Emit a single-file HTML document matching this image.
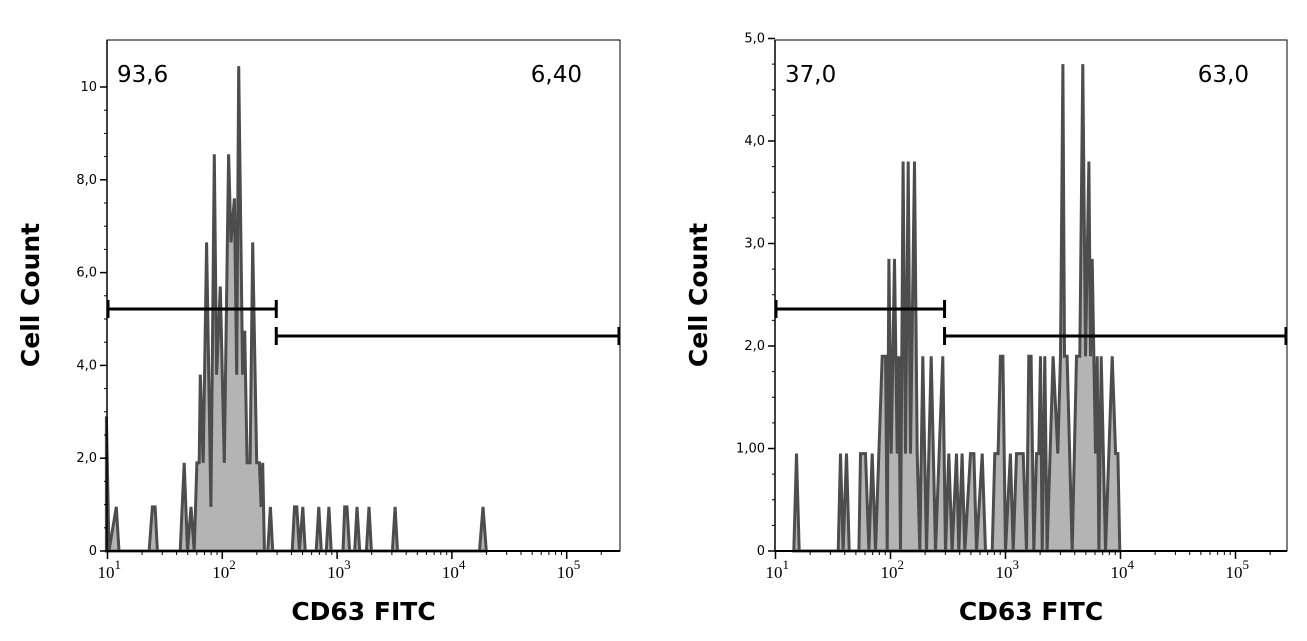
<!DOCTYPE html>
<html><head><meta charset="utf-8">
<style>
body{margin:0;background:#fff;}
svg{display:block;}
.tl{font-family:"DejaVu Sans","Liberation Sans",sans-serif;font-size:13px;fill:#000;}
.xl{font-family:"Liberation Serif",serif;font-size:17px;fill:#000;}
.ttl{font-family:"DejaVu Sans","Liberation Sans",sans-serif;font-weight:bold;font-size:25px;fill:#000;}
.pct{font-family:"DejaVu Sans","Liberation Sans",sans-serif;font-size:23px;fill:#000;}
</style></head>
<body>
<svg id="chart" width="1307" height="641" viewBox="0 0 1307 641"></svg>
<script>
// Left panel data: log10(x) bin positions and counts
const leftLogX = [0.99,1.013,1.077,1.10,1.362,1.391,1.415,1.435,1.633,1.668,1.697,1.727,1.755,1.779,1.799,1.808,1.834,1.863,1.901,1.930,1.950,1.983,2.017,2.055,2.076,2.105,2.125,2.143,2.177,2.195,2.216,2.242,2.265,2.300,2.323,2.338,2.352,2.367,2.396,2.419,2.439,2.609,2.629,2.649,2.672,2.701,2.722,2.818,2.841,2.862,2.906,2.929,2.949,3.051,3.066,3.086,3.109,3.153,3.173,3.197,3.255,3.278,3.299,3.482,3.505,3.526,4.24,4.271,4.30];
const leftCounts = [2.9,0,0.95,0,0,0.95,0.95,0,0,1.9,0,0.95,0,1.9,1.9,3.8,1.9,6.65,0.95,8.55,3.8,5.7,1.9,8.55,6.65,7.6,3.8,10.45,3.8,4.75,1.9,1.9,6.65,1.9,1.9,0.95,1.9,0,0,0.95,0,0,0.95,0.95,0,0.95,0,0,0.95,0,0,0.95,0,0,0.95,0.95,0,0,0.95,0,0,0.95,0,0,0.95,0,0,0.95,0];
// Right panel data
const rightLogX = [1.159,1.183,1.206,1.545,1.565,1.588,1.617,1.641,1.725,1.739,1.783,1.812,1.841,1.870,1.928,1.957,1.971,1.986,2.006,2.035,2.058,2.072,2.087,2.110,2.130,2.154,2.174,2.209,2.232,2.255,2.281,2.313,2.354,2.391,2.455,2.478,2.507,2.536,2.574,2.594,2.623,2.646,2.696,2.725,2.748,2.797,2.826,2.884,2.907,2.936,2.956,2.977,3.000,3.043,3.067,3.096,3.154,3.183,3.203,3.223,3.246,3.270,3.290,3.304,3.319,3.342,3.362,3.414,3.455,3.478,3.499,3.513,3.536,3.580,3.617,3.646,3.672,3.696,3.725,3.739,3.754,3.783,3.797,3.812,3.832,3.870,3.928,3.957,3.977,3.994];
const rightCounts = [0,0.95,0,0,0.95,0,0.95,0,0,0.95,0.95,0,0.95,0,1.9,1.9,0,2.85,0.95,2.85,0.95,1.9,0,3.8,0.95,3.8,0.95,3.8,0.95,0,1.9,0,1.9,0,1.9,0,0.95,0,0.95,0,0.95,0,0.95,0.95,0,0.95,0,0,0.95,0.95,1.9,1.9,0,0.95,0,0.95,0.95,0,1.9,1.9,0,0.95,0.95,1.9,0,1.9,0,1.9,0.95,1.9,4.75,1.9,1.9,0,1.9,1.9,4.75,1.9,3.8,1.9,2.85,0.95,1.9,0,1.9,0,1.9,0.95,0.95,0];
const leftYTicks = [0,2,4,6,8,10];
const leftYLabels = ["0","2,0","4,0","6,0","8,0","10"];
const rightYTicks = [0,1,2,3,4,5];
const rightYLabels = ["0","1,00","2,0","3,0","4,0","5,0"];
const xDecades = [1,2,3,4,5];
const leftPct = ["93,6","6,40"];
const rightPct = ["37,0","63,0"];
const leftGate = [0.99, 2.47, 5.05];  // log gate start, split, right end; y value
const rightGate = [1.0, 2.47, 2.3];

const NS="http://www.w3.org/2000/svg";
const svg=document.getElementById('chart');
function mk(tag,attrs,parent){const e=document.createElementNS(NS,tag);for(const k in attrs)e.setAttribute(k,attrs[k]);(parent||svg).appendChild(e);return e;}

function panel(opt){
  const g=mk('g',{});
  
  
  const L=opt.left,R=opt.right,T=40,B=551;
  const xs=v=>L+0.5+(v-1)*opt.dec;
  const ys=v=>B-v*opt.yscale;
  // frame
  const fr=mk('rect',{x:L,y:T,width:R-L,height:B-T,fill:'none',stroke:'#000','stroke-width':1},g);
  
  
  // histogram
  let d='M'+xs(opt.lx[0]).toFixed(1)+','+ys(0);
  for(let i=0;i<opt.lx.length;i++)d+=' L'+xs(opt.lx[i]).toFixed(1)+','+ys(opt.ly[i]).toFixed(1);
  d+=' L'+xs(opt.lx[opt.lx.length-1]).toFixed(1)+','+ys(0)+' Z';
  const h=mk('path',{d:d,fill:'#b4b4b4',stroke:'#4d4d4d','stroke-width':3,'stroke-linejoin':'miter'},g);
  
  
  // axes
  mk('line',{x1:L,y1:B,x2:R,y2:B,stroke:'#000','stroke-width':2},g);
  mk('line',{x1:L,y1:T,x2:L,y2:B,stroke:'#000','stroke-width':1.5},g);
  // y ticks
  opt.yt.forEach((v,i)=>{
    mk('line',{x1:L-7,y1:ys(v),x2:L,y2:ys(v),stroke:'#000','stroke-width':1.5},g);
    const t=mk('text',{x:L-10,y:ys(v)+4,'text-anchor':'end',class:'tl'},g);
    t.textContent=opt.yl[i];
    
    
    if(i<opt.yt.length-1){
      for(let m=1;m<opt.minor;m++){const mv=v+(opt.yt[i+1]-v)*m/opt.minor;
        mk('line',{x1:L-3,y1:ys(mv),x2:L,y2:ys(mv),stroke:'#000','stroke-width':1},g);}
    }
  });
  // x ticks
  xDecades.forEach(dv=>{
    const x=xs(dv);
    if(x<=R){mk('line',{x1:x,y1:B,x2:x,y2:B+8,stroke:'#000','stroke-width':1.5},g);
      const t=mk('text',{x:x-10,y:B+27,class:'xl'},g);
      
      
      t.textContent='10';
      const s=mk('tspan',{dy:-9,'font-size':'13px'},t);s.textContent=String(dv);}
    for(let m=2;m<10;m++){const mx=xs(dv+Math.log10(m));if(mx<R)mk('line',{x1:mx,y1:B,x2:mx,y2:B+4,stroke:'#000','stroke-width':1},g);}
  });
  // gates
  const gy1=309,gy2=336;
  const gx0=L+1, gx1=xs(opt.gate[1]), gx2=R;
  const gl=mk('g',{},g);
  mk('line',{x1:gx0,y1:gy1,x2:gx1,y2:gy1,stroke:'#000','stroke-width':3},gl);
  mk('line',{x1:gx0,y1:gy1-9,x2:gx0,y2:gy1+9,stroke:'#000','stroke-width':3},gl);
  mk('line',{x1:gx1,y1:gy1-9,x2:gx1,y2:gy1+9,stroke:'#000','stroke-width':3},gl);
  const gr=mk('g',{},g);
  mk('line',{x1:gx1,y1:gy2,x2:gx2,y2:gy2,stroke:'#000','stroke-width':3},gr);
  mk('line',{x1:gx1,y1:gy2-9,x2:gx1,y2:gy2+9,stroke:'#000','stroke-width':3},gr);
  mk('line',{x1:gx2-1,y1:gy2-9,x2:gx2-1,y2:gy2+9,stroke:'#000','stroke-width':3},gr);
  // pct labels
  const p1=mk('text',{x:L+10,y:82,class:'pct'},g);p1.textContent=opt.pct[0];
  
  const p2=mk('text',{x:R-38,y:82,class:'pct','text-anchor':'end'},g);p2.textContent=opt.pct[1];
  
  // titles
  const xt=mk('text',{x:(L+R)/2,y:620,class:'ttl','text-anchor':'middle'},g);xt.textContent='CD63 FITC';
  
  const yt=mk('text',{x:0,y:0,class:'ttl','text-anchor':'middle',transform:'translate('+(L-68)+',295) rotate(-90)'},g);yt.textContent='Cell Count';
  
}
panel({name:'left-histogram-panel',left:107,right:620,dec:114.8,yscale:46.4,lx:leftLogX,ly:leftCounts,yt:leftYTicks,yl:leftYLabels,minor:4,gate:leftGate,pct:leftPct});
panel({name:'right-histogram-panel',left:775,right:1287,dec:115,yscale:102.5,lx:rightLogX,ly:rightCounts,yt:rightYTicks,yl:rightYLabels,minor:4,gate:rightGate,pct:rightPct});
</script>
</body></html>
